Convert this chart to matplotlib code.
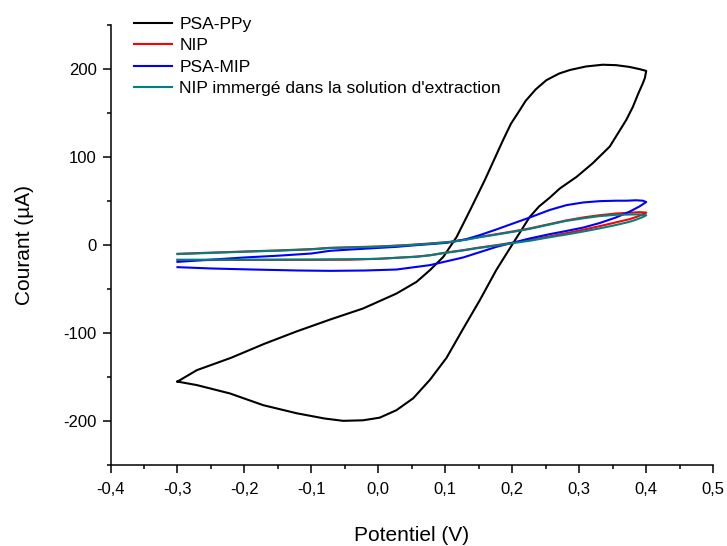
import matplotlib
matplotlib.use("Agg")
import matplotlib.pyplot as plt
from matplotlib.ticker import MultipleLocator, FuncFormatter

plt.rcParams['font.family'] = ['Liberation Sans', 'DejaVu Sans']

# PSA-PPy (black): forward scan then reverse scan
ppy_v = [-0.30, -0.271, -0.22, -0.17, -0.122, -0.072, -0.023, 0.027, 0.057, 0.077, 0.097,
         0.117, 0.137, 0.159, 0.186, 0.198, 0.21, 0.22, 0.235, 0.251, 0.27, 0.286, 0.31,
         0.335, 0.355, 0.375, 0.39, 0.40,
         0.398, 0.395, 0.388, 0.38, 0.37, 0.3455, 0.32, 0.296, 0.271, 0.256, 0.24, 0.226,
         0.201, 0.176, 0.1515, 0.1266, 0.1018, 0.077, 0.052, 0.027, 0.002, -0.023, -0.0525,
         -0.08, -0.122, -0.172, -0.2216, -0.271, -0.30]
ppy_i = [-155, -142, -128, -112, -98, -84.5, -72, -55, -41.7, -28.4, -13.3,
         9.5, 39.8, 74, 119, 138, 152, 164, 177, 187.5, 195, 199, 203,
         205, 204.5, 202.5, 200, 198,
         190, 184, 172, 157, 142, 112, 93, 77.6, 64.4, 54, 44, 32,
         2, -28.4, -62.5, -95, -128, -153, -174, -187.5, -196, -199, -199.6,
         -197, -191, -181.8, -168.5, -159, -155]

# NIP (red)
nip_v = [-0.30, -0.2, -0.1, -0.0425, 0.0, 0.057, 0.077, 0.10, 0.1266, 0.15, 0.1764, 0.20,
         0.226, 0.256, 0.28, 0.306, 0.33, 0.3555, 0.375, 0.385, 0.395, 0.40,
         0.39, 0.3555, 0.33, 0.306, 0.28, 0.256, 0.226, 0.20, 0.1764, 0.1515, 0.13, 0.107,
         0.077, 0.04, 0.0, -0.072, -0.1, -0.15, -0.2, -0.25, -0.30]
nip_i = [-17, -16.8, -16.7, -16.5, -15.5, -13, -11.4, -8.5, -5.7, -2.8, 0, 2.8,
         5.7, 10, 13.5, 17.5, 21.5, 26, 29.5, 32, 35, 37,
         37.5, 36, 34, 31.5, 28, 24, 19, 15.5, 12.5, 9.5, 6.5, 3.8,
         1.9, 0, -1.5, -3, -4.5, -6, -7.2, -8.5, -9.8]

# PSA-MIP (blue)
mip_v = [-0.30, -0.25, -0.187, -0.12, -0.072, -0.02, 0.027, 0.077, 0.1266, 0.1764, 0.226,
         0.256, 0.28, 0.306, 0.33, 0.355, 0.375, 0.39, 0.40,
         0.395, 0.385, 0.37, 0.355, 0.3306, 0.306, 0.281, 0.256, 0.226, 0.201, 0.175,
         0.1515, 0.13, 0.1018, 0.057, 0.027, -0.0425, -0.072, -0.1, -0.15, -0.2, -0.25, -0.30]
mip_i = [-25, -26.5, -27.7, -28.8, -29.2, -28.8, -27.7, -22.7, -14, -1.9, 7.6,
         12.5, 16, 20, 25, 31.5, 38, 44, 49,
         50.5, 51, 50.5, 50.5, 50, 48.5, 45.5, 40, 31.4, 24.6, 17.5,
         11.4, 6.5, 2.6, 0, -1.9, -5, -6.4, -9.5, -12, -14, -16.5, -19]

# NIP immergé dans la solution d'extraction (teal)
ext_v = [-0.30, -0.2, -0.1, -0.0425, 0.0, 0.057, 0.077, 0.10, 0.1266, 0.15, 0.1764, 0.20,
         0.226, 0.256, 0.28, 0.306, 0.33, 0.3555, 0.375, 0.385, 0.395, 0.40,
         0.39, 0.3555, 0.33, 0.306, 0.28, 0.256, 0.226, 0.20, 0.1764, 0.1515, 0.13, 0.107,
         0.077, 0.04, 0.0, -0.072, -0.1, -0.15, -0.2, -0.25, -0.30]
ext_i = [-16.5, -16.5, -16.3, -16, -15.5, -13.2, -11.6, -8.8, -6, -3.2, -0.5, 2.2,
         5, 9, 12, 15.5, 19, 23, 26.5, 29, 32, 34,
         35, 34.5, 33, 30.5, 27.5, 23.5, 18.5, 15, 12, 9, 6, 3.5,
         1.6, -0.3, -1.8, -3.3, -4.8, -6.3, -7.5, -8.8, -10.2]

labels = ["PSA-PPy", "NIP", "PSA-MIP", "NIP immergé dans la solution d'extraction"]

fig = plt.figure(figsize=(7.27, 5.46), dpi=100)
ax = fig.add_axes([0.152, 0.148, 0.829, 0.806])

ax.plot(ppy_v, ppy_i, color="black", lw=1.5, label=labels[0])
ax.plot(nip_v, nip_i, color="#ff0000", lw=1.5, label=labels[1])
ax.plot(mip_v, mip_i, color="#0000ff", lw=1.5, label=labels[2])
ax.plot(ext_v, ext_i, color="#008080", lw=1.5, label=labels[3])

ax.set_xlim(-0.4, 0.5)
ax.set_ylim(-250, 250)
ax.xaxis.set_major_locator(MultipleLocator(0.1))
ax.xaxis.set_minor_locator(MultipleLocator(0.05))
ax.yaxis.set_major_locator(MultipleLocator(100))
ax.yaxis.set_minor_locator(MultipleLocator(50))
ax.xaxis.set_major_formatter(FuncFormatter(lambda v, p: f"{v:.1f}".replace(".", ",").replace("-0,0", "0,0")))
ax.yaxis.set_major_formatter(FuncFormatter(lambda v, p: f"{v:.0f}"))

for s in ["top", "right"]:
    ax.spines[s].set_visible(False)
for s in ["left", "bottom"]:
    ax.spines[s].set_linewidth(1.1)
ax.tick_params(which="major", direction="out", length=6, width=1.1, labelsize=12)
ax.tick_params(axis="x", which="major", pad=6)
ax.tick_params(axis="y", which="major", pad=4)
ax.tick_params(which="minor", direction="out", length=3, width=1.1)

ax.set_xlabel("Potentiel (V)", fontsize=15, labelpad=21)
ax.set_ylabel("Courant (µA)", fontsize=15, labelpad=21)

fig.legend(loc="upper left", bbox_to_anchor=(0.184, 0.970), frameon=False, fontsize=12.6,
           handlelength=2.2, handletextpad=0.4, labelspacing=0.36, borderpad=0, borderaxespad=0)

fig.savefig("out.png", dpi=100)
